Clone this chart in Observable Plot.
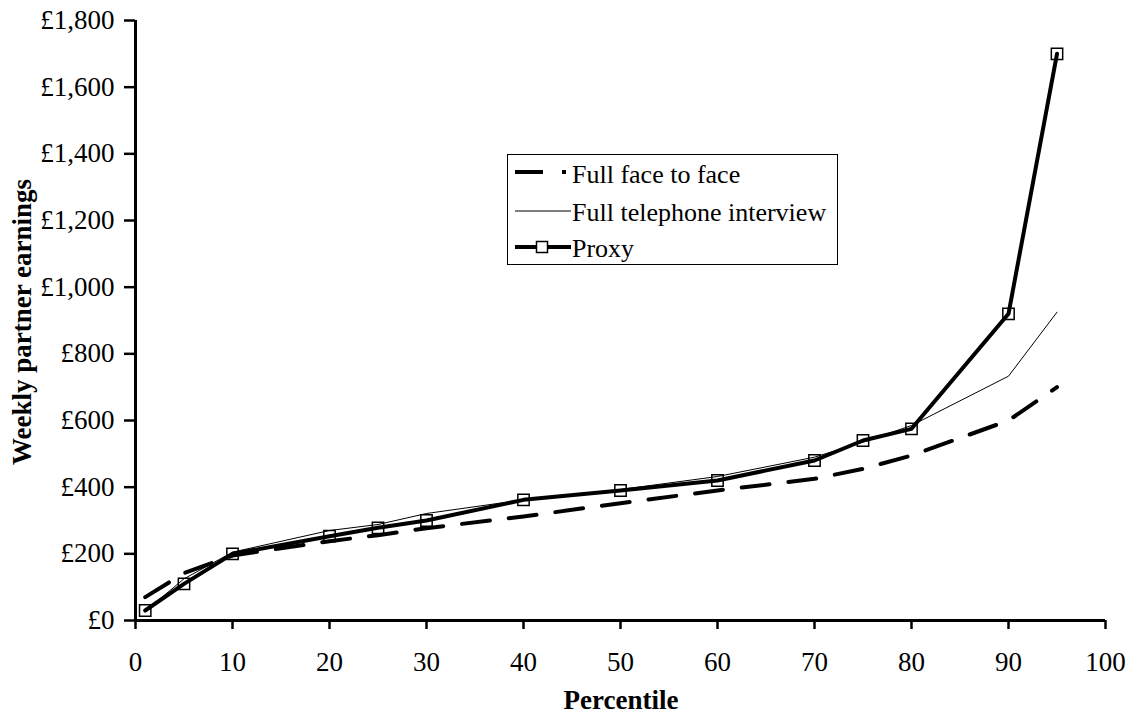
<!DOCTYPE html>
<html>
<head>
<meta charset="utf-8">
<script src="https://cdn.jsdelivr.net/npm/d3@7"></script>
<script src="https://cdn.jsdelivr.net/npm/@observablehq/plot@0.6"></script>
<style>
  html, body { margin: 0; padding: 0; background: white; }
  #chart { width: 1131px; height: 715px; }
</style>
</head>
<body>
<div id="chart"></div>
<script>
// Data
const percentiles = [1, 5, 10, 20, 25, 30, 40, 50, 60, 70, 75, 80, 90, 95];
const faceToFace  = [70, 142, 195, 238, 256, 277, 312, 352, 390, 425, 455, 495, 600, 700];
const telephone   = [28, 125, 205, 270, 288, 321, 362, 393, 432, 490, 535, 585, 733, 925];
const proxy       = [30, 110, 200, 253, 278, 300, 362, 390, 420, 480, 540, 575, 920, 1700];

const xTicks = [0, 10, 20, 30, 40, 50, 60, 70, 80, 90, 100];
const yTicks = [0, 200, 400, 600, 800, 1000, 1200, 1400, 1600, 1800];

const seriesNames = ["Full face to face", "Full telephone interview", "Proxy"];
const xTitle = "Percentile";
const yTitle = "Weekly partner earnings";

const rows = percentiles.map((p, i) => ({p, f: faceToFace[i], t: telephone[i], v: proxy[i]}));

const FONT = "'Liberation Serif', 'Times New Roman', serif";
const FS = 27;

const svg = Plot.plot({
  width: 1131,
  height: 715,
  marginLeft: 135,
  marginRight: 26,
  marginTop: 20,
  marginBottom: 95,
  x: {domain: [0, 100]},
  y: {domain: [0, 1800]},
  style: {fontFamily: FONT, fontSize: FS + "px", color: "black", background: "white", overflow: "visible"},
  marks: [
    Plot.axisX({ticks: xTicks, tickSize: 9, tickPadding: 22, strokeWidth: 2.5, label: null, fontSize: FS, tickFormat: d => String(d)}),
    Plot.axisY({ticks: yTicks, tickSize: 11, tickPadding: 10, strokeWidth: 2.5, label: null, fontSize: FS,
                tickFormat: d => "£" + d3.format(",")(d)}),
    Plot.line(rows, {x: "p", y: "f", stroke: "black", strokeWidth: 4, strokeDasharray: "28,19"}),
    Plot.line(rows, {x: "p", y: "t", stroke: "black", strokeWidth: 1}),
    Plot.line(rows, {x: "p", y: "v", stroke: "black", strokeWidth: 4}),
    Plot.dot(rows, {x: "p", y: "v", symbol: "square", r: 6.4, stroke: "black", fill: "none", strokeWidth: 1.5}),
    Plot.ruleY([0], {stroke: "black", strokeWidth: 3}),
    Plot.ruleX([0], {stroke: "black", strokeWidth: 3})
  ]
});

document.getElementById("chart").appendChild(svg);

const s = d3.select(svg);

// Axis titles
s.append("text")
  .attr("transform", "translate(31,322) rotate(-90)")
  .attr("text-anchor", "middle")
  .attr("font-family", FONT)
  .attr("font-size", FS)
  .attr("font-weight", "bold")
  .attr("fill", "black")
  .text(yTitle);

s.append("text")
  .attr("x", 621)
  .attr("y", 709)
  .attr("text-anchor", "middle")
  .attr("font-family", FONT)
  .attr("font-size", FS)
  .attr("font-weight", "bold")
  .attr("fill", "black")
  .text(xTitle);

// Legend
const lg = s.append("g").attr("text-anchor", "start");
lg.append("rect").attr("x", 507.5).attr("y", 154.5).attr("width", 330).attr("height", 110)
  .attr("fill", "white").attr("stroke", "black").attr("stroke-width", 1);
// face to face sample
lg.append("line").attr("x1", 515).attr("x2", 543).attr("y1", 172).attr("y2", 172)
  .attr("stroke", "black").attr("stroke-width", 4);
lg.append("rect").attr("x", 562).attr("y", 170).attr("width", 4).attr("height", 4).attr("fill", "black");
// telephone sample
lg.append("line").attr("x1", 515).attr("x2", 571).attr("y1", 211).attr("y2", 211)
  .attr("stroke", "black").attr("stroke-width", 1);
// proxy sample
lg.append("line").attr("x1", 515).attr("x2", 571).attr("y1", 247).attr("y2", 247)
  .attr("stroke", "black").attr("stroke-width", 4);
lg.append("rect").attr("x", 536.5).attr("y", 241.5).attr("width", 11).attr("height", 11)
  .attr("fill", "white").attr("stroke", "black").attr("stroke-width", 1.5);
const baselines = [183, 221, 257];
seriesNames.forEach((name, i) => {
  lg.append("text").attr("x", 572).attr("y", baselines[i])
    .attr("text-anchor", "start")
    .attr("font-family", FONT).attr("font-size", 26).attr("fill", "black")
    .text(name);
});
</script>
</body>
</html>
